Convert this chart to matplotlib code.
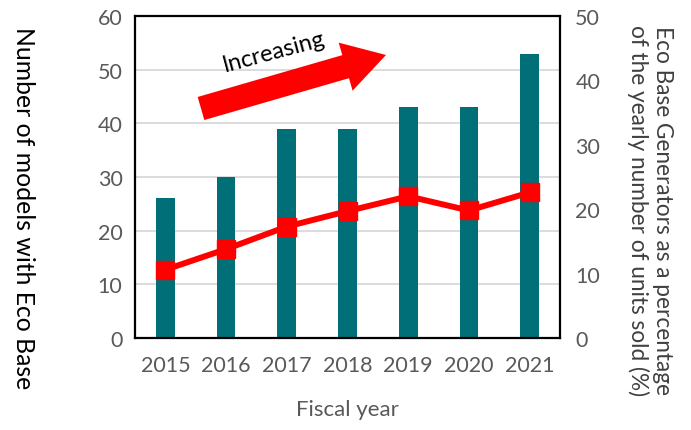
import numpy as np
import matplotlib
matplotlib.use("Agg")
import matplotlib.pyplot as plt
from matplotlib.patches import Polygon

years = ["2015", "2016", "2017", "2018", "2019", "2020", "2021"]
models = [26, 30, 39, 39, 43, 43, 53]
share_pct = [10.6, 13.8, 17.3, 19.7, 22.0, 19.8, 22.6]
left_ticks = [0, 10, 20, 30, 40, 50, 60]
right_ticks = [0, 10, 20, 30, 40, 50]

plt.rcParams['font.family'] = ['Lato', 'DejaVu Sans']

W, H = 691, 431
fig = plt.figure(figsize=(W / 100, H / 100), dpi=100)
ax = fig.add_axes([135 / W, 1 - 339 / H, (560 - 135) / W, (339 - 17) / H])

x = np.arange(len(years))
ax.bar(x, models, width=0.31, color="#006F78", zorder=2)
ax.set_xlim(-0.5, len(years) - 0.5)
ax.set_ylim(0, 60)
ax.set_yticks(left_ticks)
ax.set_xticks(x)
ax.set_xticklabels(years)
ax.yaxis.grid(True, color="#d9d9d9", linewidth=1.3, zorder=0)
ax.set_axisbelow(True)
ax.tick_params(length=0, labelsize=15.5, colors="#595959", pad=9)
ax.tick_params(axis='x', pad=12)
for s in ax.spines.values():
    s.set_linewidth(1.6)
    s.set_color("black")

ax2 = ax.twinx()
ax2.plot(x, share_pct, color="#FF0000", linewidth=4.3, marker="s", markersize=13,
         zorder=3)
ax2.set_ylim(0, 50)
ax2.set_yticks(right_ticks)
ax2.tick_params(length=0, labelsize=15.5, colors="#595959", pad=11)
for s in ax2.spines.values():
    s.set_visible(False)

fig.text(347 / W, 1 - 410 / H, "Fiscal year", fontsize=16, color="#595959",
         ha="center", va="center")
fig.text(23 / W, 1 - 208 / H, "Number of models with Eco Base", fontsize=17.8,
         color="black", rotation=270, ha="center", va="center")
fig.text(650 / W, 1 - 211 / H,
         "Eco Base Generators as a percentage\nof the yearly number of units sold (%)",
         fontsize=16.3, color="#404040", rotation=270, ha="center", va="center",
         linespacing=1.15)

# Arrow polygon in pixel coordinates (y downward)
tail = np.array([201.0, 109.5])
tip = np.array([386.0, 56.0])
u = (tip - tail) / np.linalg.norm(tip - tail)
n = np.array([-u[1], u[0]])
L = np.linalg.norm(tip - tail)
hb = tail + u * (L - 42)
bw, hw = 12, 25
pts = [tail + n * bw, hb + n * bw, hb + n * hw, tip, hb - n * hw, hb - n * bw, tail - n * bw]
pts = [(p[0] / W, 1 - p[1] / H) for p in pts]
fig.patches.append(Polygon(pts, closed=True, transform=fig.transFigure,
                           facecolor="#FF0000", edgecolor="none", zorder=5))
fig.text(274 / W, 1 - 52 / H, "Increasing", fontsize=17, rotation=15,
         ha="center", va="center", color="black")

fig.savefig("out.png", dpi=100)
